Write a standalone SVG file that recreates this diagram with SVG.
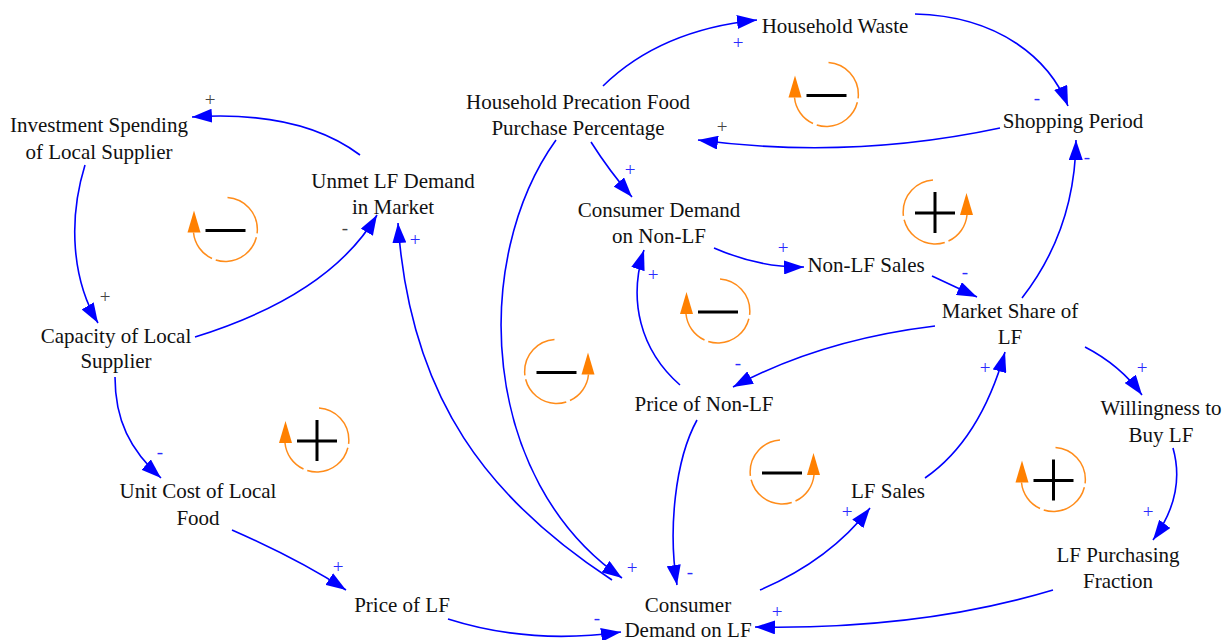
<svg xmlns="http://www.w3.org/2000/svg" width="1226" height="640" viewBox="0 0 1226 640">
<style>
.n{font-family:"Liberation Serif","Times New Roman",serif;font-size:21px;fill:#111;text-anchor:middle}
.p{font-family:"Liberation Serif","Times New Roman",serif;font-size:19px;text-anchor:middle}
.pb{fill:#2a2aff}
.pg{fill:#444}
.c{fill:none;stroke:#0000ff;stroke-width:1.6;marker-end:url(#ah)}
.arc{fill:none;stroke:#ff8c1a;stroke-width:1.5;stroke-dasharray:52 4}
.ah2{fill:#ff8000}
.sg{stroke:#000;stroke-width:3}
</style>
<defs>
<marker id="ah" viewBox="0 0 20 14" refX="20" refY="7" markerWidth="20" markerHeight="14" orient="auto" markerUnits="userSpaceOnUse">
<path d="M0,0 L20,7 L0,14 z" fill="#0000ff"/>
</marker>
<g id="loopL">
<path class="arc" d="M2,-32 A32,32 0 1 1 -32,3"/>
<polygon class="ah2" points="-31.5,-19 -38,3 -25,3"/>
</g>
<g id="loopR">
<path class="arc" d="M-2,-32 A32,32 0 1 0 32,3"/>
<polygon class="ah2" points="31.5,-19 38,3 25,3"/>
</g>
<g id="minus"><line class="sg" x1="-20" y1="1" x2="20" y2="1"/></g>
<g id="plus"><line class="sg" x1="-20" y1="1" x2="20" y2="1"/><line class="sg" x1="0" y1="-20" x2="0" y2="21"/></g>
</defs>
<rect width="1226" height="640" fill="#fff"/>

<g id="connectors">
<path class="c" d="M603,86 Q660,30 757,20"/>
<path class="c" d="M915,14 C1000,16 1050,60 1068,106"/>
<path class="c" d="M1000,128 Q850,160 698,140"/>
<path class="c" d="M591,142 Q610,172 632,197"/>
<path class="c" d="M556,140 C470,260 480,480 622,578"/>
<path class="c" d="M612,580 C490,500 410,400 398,223"/>
<path class="c" d="M360,155 Q300,110 192,117"/>
<path class="c" d="M85,165 C68,220 72,280 98,323"/>
<path class="c" d="M195,337 Q330,295 377,215"/>
<path class="c" d="M115,377 C115,420 130,450 161,478"/>
<path class="c" d="M232,530 Q300,560 346,590"/>
<path class="c" d="M448,619 Q530,645 621,632"/>
<path class="c" d="M1053,590 Q920,630 755,627"/>
<path class="c" d="M760,590 Q830,560 870,508"/>
<path class="c" d="M925,478 Q980,440 1005,352"/>
<path class="c" d="M1022,298 Q1075,230 1076,140"/>
<path class="c" d="M1085,347 Q1120,365 1142,395"/>
<path class="c" d="M1173,448 C1182,480 1175,510 1153,540"/>
<path class="c" d="M932,276 L977,297"/>
<path class="c" d="M714,248 Q760,268 804,267"/>
<path class="c" d="M935,326 Q820,340 733,387"/>
<path class="c" d="M680,385 C640,350 628,300 644,250"/>
<path class="c" d="M697,420 C675,460 668,530 677,585"/>
</g>

<g id="polarities">
<text class="p pb" x="738" y="49">+</text>
<text class="p pb" x="1037" y="104">-</text>
<text class="p pg" x="722" y="133">+</text>
<text class="p pb" x="630" y="176">+</text>
<text class="p pb" x="632" y="574">+</text>
<text class="p pb" x="415" y="246">+</text>
<text class="p pg" x="210" y="106">+</text>
<text class="p pg" x="105" y="303">+</text>
<text class="p pg" x="345" y="234">-</text>
<text class="p pb" x="160" y="458">-</text>
<text class="p pb" x="338" y="573">+</text>
<text class="p pb" x="597" y="624">-</text>
<text class="p pb" x="777" y="618">+</text>
<text class="p pb" x="847" y="518">+</text>
<text class="p pb" x="985" y="374">+</text>
<text class="p pb" x="1087" y="163">-</text>
<text class="p pb" x="1142" y="374">+</text>
<text class="p pb" x="1148" y="518">+</text>
<text class="p pb" x="965" y="278">-</text>
<text class="p pb" x="783" y="254">+</text>
<text class="p pb" x="738" y="369">-</text>
<text class="p pb" x="653" y="281">+</text>
<text class="p pb" x="690" y="578">-</text>
</g>

<g id="loops">
<g id="loop1" transform="translate(225.5,229.5)"><use href="#loopL"/><use href="#minus"/></g>
<g id="loop2" transform="translate(826.5,94.5)"><use href="#loopL"/><use href="#minus"/></g>
<g id="loop3" transform="translate(935,212)"><use href="#loopR"/><use href="#plus"/></g>
<g id="loop4" transform="translate(556.5,371.5)"><use href="#loopR"/><use href="#minus"/></g>
<g id="loop5" transform="translate(718,311)"><use href="#loopL"/><use href="#minus"/></g>
<g id="loop6" transform="translate(317,440)"><use href="#loopL"/><use href="#plus"/></g>
<g id="loop7" transform="translate(782,472)"><use href="#loopR"/><use href="#minus"/></g>
<g id="loop8" transform="translate(1053.5,479.5)"><use href="#loopL"/><use href="#plus"/></g>
</g>

<g id="node-household-waste"><text class="n" x="835" y="33">Household Waste</text></g>
<g id="node-hpfpp"><text class="n" x="578" y="109">Household Precation Food</text><text class="n" x="578" y="135">Purchase Percentage</text></g>
<g id="node-shopping-period"><text class="n" x="1073" y="128">Shopping Period</text></g>
<g id="node-investment"><text class="n" x="99" y="132">Investment Spending</text><text class="n" x="99" y="159">of Local Supplier</text></g>
<g id="node-unmet"><text class="n" x="393" y="188">Unmet LF Demand</text><text class="n" x="393" y="214">in Market</text></g>
<g id="node-cd-nonlf"><text class="n" x="659" y="217">Consumer Demand</text><text class="n" x="659" y="243">on Non-LF</text></g>
<g id="node-nonlf-sales"><text class="n" x="866" y="272">Non-LF Sales</text></g>
<g id="node-market-share"><text class="n" x="1010" y="318">Market Share of</text><text class="n" x="1010" y="344">LF</text></g>
<g id="node-capacity"><text class="n" x="116" y="343">Capacity of Local</text><text class="n" x="116" y="368">Supplier</text></g>
<g id="node-price-nonlf"><text class="n" x="704" y="411">Price of Non-LF</text></g>
<g id="node-willingness"><text class="n" x="1161" y="415">Willingness to</text><text class="n" x="1161" y="442">Buy LF</text></g>
<g id="node-unit-cost"><text class="n" x="198" y="498">Unit Cost of Local</text><text class="n" x="198" y="525">Food</text></g>
<g id="node-lf-sales"><text class="n" x="888" y="498">LF Sales</text></g>
<g id="node-lf-purchasing"><text class="n" x="1118" y="562">LF Purchasing</text><text class="n" x="1118" y="588">Fraction</text></g>
<g id="node-price-lf"><text class="n" x="402" y="612">Price of LF</text></g>
<g id="node-cd-lf"><text class="n" x="688" y="612">Consumer</text><text class="n" x="688" y="637">Demand on LF</text></g>
</svg>
